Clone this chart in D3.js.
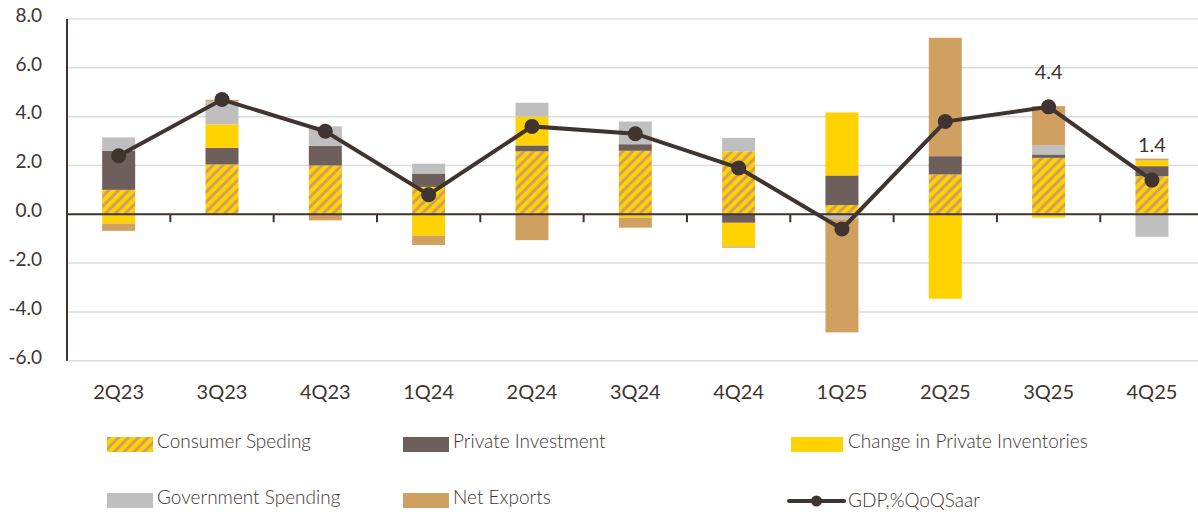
<!DOCTYPE html>
<html>
<head>
<meta charset="utf-8">
<script src="https://cdn.jsdelivr.net/npm/d3@7"></script>
<style>
  body { margin: 0; background: #fff; }
  svg { display: block; font-family: Lato, "Liberation Sans", sans-serif; }
</style>
</head>
<body>
<div class="container"></div>
<script>
// quarters on the x axis
var quarters = ['2Q23', '3Q23', '4Q23', '1Q24', '2Q24', '3Q24', '4Q24', '1Q25', '2Q25', '3Q25', '4Q25'];

// contributions to GDP growth, pp
var consumer    = [1.0, 2.04, 2.0, 1.12, 2.58, 2.6, 2.58, 0.38, 1.63, 2.31, 1.56];
var investment  = [1.6, 0.68, 0.81, 0.55, 0.24, 0.27, -0.35, 1.21, 0.75, 0.14, 0.41];
var inventories = [-0.38, 0.96, 0, -0.88, 1.18, -0.14, -0.97, 2.58, -3.46, -0.14, 0.23];
var government  = [0.55, 0.96, 0.79, 0.4, 0.57, 0.93, 0.55, -0.2, 0, 0.38, -0.92];
var netExports  = [-0.3, 0.05, -0.25, -0.38, -1.06, -0.41, -0.05, -4.64, 4.85, 1.6, 0.08];
var gdp         = [2.4, 4.7, 3.4, 0.8, 3.6, 3.3, 1.9, -0.6, 3.8, 4.4, 1.4];

var yTicks = [8, 6, 4, 2, 0, -2, -4, -6];
var labelled = ['3Q25', '4Q25'];

var series = [
  { key: 'consumer',    name: 'Consumer Speding',                values: consumer,    fill: 'url(#hatch)' },
  { key: 'investment',  name: 'Private Investment',              values: investment,  fill: '#6e5e5c' },
  { key: 'inventories', name: 'Change in Private Inventories',   values: inventories, fill: '#ffd200' },
  { key: 'government',  name: 'Government Spending',             values: government,  fill: '#bfbfbf' },
  { key: 'netExports',  name: 'Net Exports',                     values: netExports,  fill: '#d0a060' }
];

var ink = '#3f3430';
var width = 1198, height = 512;
var fmt = function(v){ return d3.format('.1f')(v).replace('\u2212', '-'); };

var svg = d3.select('.container').append('svg')
  .attr('width', width)
  .attr('height', height);

// hatch for consumer spending
var pat = svg.append('defs').append('pattern')
  .attr('id', 'hatch')
  .attr('patternUnits', 'userSpaceOnUse')
  .attr('width', 7).attr('height', 7)
  .attr('patternTransform', 'rotate(45)');
pat.append('rect').attr('width', 7).attr('height', 7).attr('fill', '#ffd200');
pat.append('rect').attr('width', 3).attr('height', 7).attr('fill', '#d0a060');

var x = d3.scaleBand()
  .domain(quarters)
  .range([67, 1203.6]);

var y = d3.scaleLinear()
  .domain([-6, 8])
  .range([360.7, 19]);

// gridlines
svg.append('g')
  .selectAll('line')
  .data(yTicks)
  .enter()
  .append('line')
  .attr('x1', 67)
  .attr('x2', width)
  .attr('y1', function(d){ return y(d); })
  .attr('y2', function(d){ return y(d); })
  .attr('stroke', '#dcdcdc')
  .attr('stroke-width', 1.5);

// y labels
svg.append('g')
  .selectAll('text')
  .data(yTicks)
  .enter()
  .append('text')
  .attr('x', 42)
  .attr('y', function(d){ return y(d) - 2; })
  .attr('text-anchor', 'end')
  .attr('dominant-baseline', 'middle')
  .attr('font-size', 19)
  .attr('fill', ink)
  .text(fmt);

// stacked bars
var table = quarters.map(function(q, i){
  var row = { q: q };
  series.forEach(function(s){ row[s.key] = s.values[i]; });
  return row;
});

var stacked = d3.stack()
  .keys(series.map(function(s){ return s.key; }))
  .offset(d3.stackOffsetDiverging)(table);

var barW = 33;

svg.append('g')
  .selectAll('g')
  .data(stacked)
  .enter()
  .append('g')
  .attr('fill', function(d, i){ return series[i].fill; })
  .selectAll('rect')
  .data(function(d){ return d; })
  .enter()
  .append('rect')
  .attr('x', function(d){ return x(d.data.q) + x.bandwidth() / 2 - barW / 2; })
  .attr('width', barW)
  .attr('y', function(d){ return y(Math.max(d[0], d[1])); })
  .attr('height', function(d){ return Math.abs(y(d[0]) - y(d[1])); });

// x axis at zero
var xAxis = svg.append('g')
  .attr('transform', 'translate(0,' + y(0) + ')');
xAxis.append('line')
  .attr('x1', 67).attr('x2', width)
  .attr('stroke', ink).attr('stroke-width', 2);

// tick marks between quarters
xAxis.selectAll('.sep')
  .data(quarters.slice(1))
  .enter()
  .append('line')
  .attr('x1', function(d){ return x(d); })
  .attr('x2', function(d){ return x(d); })
  .attr('y1', 0).attr('y2', 8)
  .attr('stroke', ink).attr('stroke-width', 2);

// y axis line
svg.append('line')
  .attr('x1', 67).attr('x2', 67)
  .attr('y1', y(8)).attr('y2', y(-6))
  .attr('stroke', ink).attr('stroke-width', 2);

// quarter labels
svg.append('g')
  .selectAll('text')
  .data(quarters)
  .enter()
  .append('text')
  .attr('x', function(d){ return x(d) + x.bandwidth() / 2; })
  .attr('y', 394)
  .attr('text-anchor', 'middle')
  .attr('dominant-baseline', 'middle')
  .attr('font-size', 20)
  .attr('fill', ink)
  .text(function(d){ return d; });

// GDP line
var line = d3.line()
  .x(function(d, i){ return x(quarters[i]) + x.bandwidth() / 2; })
  .y(function(d){ return y(d); });

svg.append('path')
  .datum(gdp)
  .attr('d', line)
  .attr('fill', 'none')
  .attr('stroke', ink)
  .attr('stroke-width', 4);

svg.append('g')
  .selectAll('circle')
  .data(gdp)
  .enter()
  .append('circle')
  .attr('cx', function(d, i){ return x(quarters[i]) + x.bandwidth() / 2; })
  .attr('cy', function(d){ return y(d); })
  .attr('r', 7.5)
  .attr('fill', ink);

// value labels for latest quarters
svg.append('g')
  .selectAll('text')
  .data(labelled)
  .enter()
  .append('text')
  .attr('x', function(d){ return x(d) + x.bandwidth() / 2; })
  .attr('y', function(d){ return y(gdp[quarters.indexOf(d)]) - 28; })
  .attr('text-anchor', 'middle')
  .attr('font-size', 20)
  .attr('fill', ink)
  .text(function(d){ return fmt(gdp[quarters.indexOf(d)]); });

// legend
var legendItems = [
  { s: series[0], x: 107, y: 437 },
  { s: series[1], x: 403, y: 437 },
  { s: series[2], x: 791, y: 437 },
  { s: series[3], x: 107, y: 493 },
  { s: series[4], x: 403, y: 493 }
];

var leg = svg.append('g')
  .selectAll('g')
  .data(legendItems)
  .enter()
  .append('g')
  .attr('transform', function(d){ return 'translate(' + d.x + ',' + d.y + ')'; });

leg.append('rect')
  .attr('width', function(d){ return d.x > 700 ? 52 : 46; })
  .attr('height', 15)
  .attr('fill', function(d){ return d.s.fill; });

leg.append('text')
  .attr('x', function(d){ return d.x > 700 ? 57 : 50; })
  .attr('y', 11)
  .attr('font-size', 19)
  .attr('font-weight', 300)
  .attr('fill', ink)
  .text(function(d){ return d.s.name; });

var gl = svg.append('g').attr('transform', 'translate(789,501)');
gl.append('line').attr('x1', 0).attr('x2', 55)
  .attr('stroke', ink).attr('stroke-width', 4).attr('stroke-linecap', 'round');
gl.append('circle').attr('cx', 27.5).attr('r', 5.5).attr('fill', ink);
gl.append('text').attr('x', 59).attr('y', 6)
  .attr('font-size', 19).attr('font-weight', 300).attr('fill', ink)
  .text('GDP,%QoQSaar');
</script>
</body>
</html>
